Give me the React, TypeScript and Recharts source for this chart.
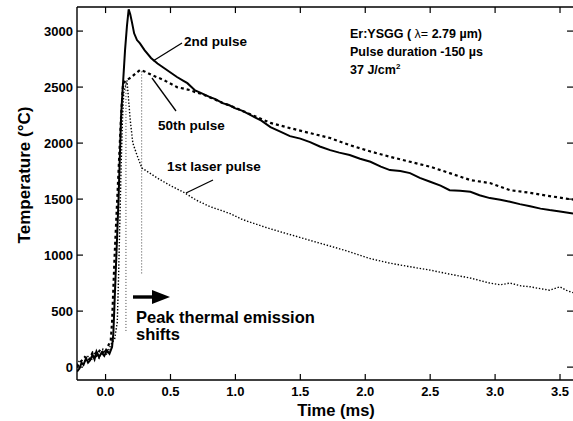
import React from 'react';
import { LineChart, Line, XAxis, YAxis, ReferenceLine } from 'recharts';

// 2nd pulse (solid)
const pulse2Time = [-0.22, -0.2, -0.185, -0.17, -0.15, -0.135, -0.12, -0.1, -0.085, -0.07, -0.05, -0.03, -0.01, 0.01, 0.03, 0.05, 0.06, 0.07, 0.08, 0.09, 0.1, 0.11, 0.12, 0.13, 0.15, 0.165, 0.178, 0.19, 0.203, 0.22, 0.242, 0.265, 0.3, 0.35, 0.4, 0.45, 0.5, 0.55, 0.6, 0.63, 0.69, 0.75, 0.8, 0.85, 0.9, 0.95, 1.0, 1.05, 1.1, 1.15, 1.2, 1.27, 1.35, 1.42, 1.5, 1.575, 1.65, 1.73, 1.8, 1.88, 1.96, 2.04, 2.12, 2.19, 2.27, 2.345, 2.42, 2.5, 2.58, 2.65, 2.73, 2.81, 2.88, 2.96, 3.04, 3.115, 3.19, 3.27, 3.35, 3.42, 3.5, 3.6];
const pulse2Temp = [-40, -10, 40, 20, 80, 40, 60, 110, 70, 140, 90, 130, 100, 150, 120, 180, 300, 600, 900, 1200, 1500, 1880, 2250, 2450, 2830, 3050, 3195, 3150, 3080, 2980, 2920, 2890, 2830, 2760, 2710, 2670, 2630, 2590, 2555, 2535, 2470, 2440, 2413, 2390, 2357, 2340, 2310, 2290, 2260, 2230, 2200, 2143, 2100, 2062, 2040, 2009, 1970, 1937, 1915, 1893, 1860, 1833, 1790, 1759, 1750, 1732, 1690, 1655, 1620, 1580, 1575, 1565, 1535, 1509, 1495, 1476, 1455, 1437, 1415, 1402, 1390, 1372];

// 50th pulse (dashed)
const pulse50Time = [-0.22, -0.19, -0.16, -0.13, -0.1, -0.07, -0.04, -0.01, 0.02, 0.04, 0.05, 0.06, 0.07, 0.08, 0.09, 0.1, 0.11, 0.12, 0.135, 0.16, 0.2, 0.24, 0.265, 0.3, 0.357, 0.45, 0.55, 0.65, 0.69, 0.75, 0.8, 0.9, 1.0, 1.1, 1.2, 1.27, 1.42, 1.575, 1.73, 1.88, 2.04, 2.19, 2.345, 2.5, 2.65, 2.81, 2.96, 3.115, 3.27, 3.42, 3.6];
const pulse50Temp = [0, 50, 90, 60, 130, 100, 160, 120, 190, 240, 400, 700, 1000, 1250, 1500, 1750, 2000, 2250, 2535, 2560, 2590, 2630, 2652, 2640, 2607, 2562, 2500, 2473, 2455, 2435, 2410, 2360, 2315, 2265, 2215, 2180, 2134, 2089, 2045, 1982, 1925, 1878, 1833, 1789, 1732, 1670, 1643, 1580, 1556, 1527, 1495];

// 1st laser pulse (dotted)
const pulse1Time = [-0.22, -0.2, -0.17, -0.14, -0.11, -0.08, -0.05, -0.02, 0.01, 0.04, 0.07, 0.09, 0.1, 0.11, 0.12, 0.13, 0.14, 0.165, 0.18, 0.19, 0.21, 0.242, 0.28, 0.4, 0.5, 0.6, 0.7, 0.8, 0.9, 0.96, 1.05, 1.11, 1.24, 1.4, 1.55, 1.7, 1.85, 2.04, 2.19, 2.345, 2.5, 2.65, 2.81, 2.96, 3.04, 3.115, 3.2, 3.27, 3.35, 3.42, 3.5, 3.55, 3.6];
const pulse1Temp = [20, 60, 30, 100, 60, 140, 80, 160, 110, 200, 250, 400, 800, 1300, 1800, 2200, 2450, 2560, 2350, 2205, 2000, 1893, 1777, 1687, 1620, 1562, 1490, 1435, 1395, 1370, 1320, 1295, 1245, 1190, 1140, 1090, 1040, 968, 928, 896, 866, 830, 795, 750, 735, 750, 725, 717, 700, 687, 717, 685, 665];

const xTicks = [0, 0.5, 1, 1.5, 2, 2.5, 3, 3.5];
const yTicks = [0, 500, 1000, 1500, 2000, 2500, 3000];
const xDomain = [-0.22, 3.6];
const yDomain = [-115, 3215];
// inward tick length of the mirrored frame ticks, in data units (≈6 px)
const topTickLen = 54;
const rightTickLen = 0.046;

const pulse2 = pulse2Time.map((t, i) => ({ t, T: pulse2Temp[i] }));
const pulse50 = pulse50Time.map((t, i) => ({ t, T: pulse50Temp[i] }));
const pulse1 = pulse1Time.map((t, i) => ({ t, T: pulse1Temp[i] }));

const font = '"Liberation Sans", Arial, Helvetica, sans-serif';
const tickStyle = { fontSize: 13, fontWeight: 700, fill: '#000', fontFamily: font };
const axisLineStyle = { stroke: '#000', strokeWidth: 1.4 };
const tickLineStyle = { stroke: '#000', strokeWidth: 1.2 };

export default function App() {
  return (
    <div style={{ position: 'absolute', left: 0, top: 0, width: 573, height: 421, background: '#fff', overflow: 'hidden' }}>
      <LineChart width={574} height={421} margin={{ top: 7, right: 1, bottom: 0, left: 0 }}>
        <XAxis xAxisId="b" type="number" dataKey="t" domain={xDomain} ticks={xTicks} allowDataOverflow
          orientation="bottom" height={41} tickSize={-6} tickMargin={13} interval={0}
          tick={tickStyle} tickFormatter={(v: number) => v.toFixed(1)}
          axisLine={axisLineStyle} tickLine={tickLineStyle} />
        <YAxis yAxisId="l" type="number" domain={yDomain} ticks={yTicks} allowDataOverflow
          orientation="left" width={77} tickSize={-6} tickMargin={10} interval={0}
          tick={tickStyle} axisLine={axisLineStyle} tickLine={tickLineStyle} />

        {/* frame: top border, top ticks, right ticks */}
        <ReferenceLine xAxisId="b" yAxisId="l" y={yDomain[1]} stroke="#000" strokeWidth={1.4} ifOverflow="visible" />
        {xTicks.map((v) => (
          <ReferenceLine key={'tt' + v} xAxisId="b" yAxisId="l" ifOverflow="visible"
            segment={[{ x: v, y: yDomain[1] }, { x: v, y: yDomain[1] - topTickLen }]}
            stroke="#000" strokeWidth={1.2} />
        ))}
        {yTicks.map((v) => (
          <ReferenceLine key={'rt' + v} xAxisId="b" yAxisId="l" ifOverflow="visible"
            segment={[{ x: xDomain[1], y: v }, { x: xDomain[1] - rightTickLen, y: v }]}
            stroke="#000" strokeWidth={1.2} />
        ))}

        <ReferenceLine xAxisId="b" yAxisId="l" segment={[{ x: 0.157, y: 2555 }, { x: 0.157, y: 305 }]}
          stroke="#444" strokeWidth={1} strokeDasharray="1 2" />
        <ReferenceLine xAxisId="b" yAxisId="l" segment={[{ x: 0.278, y: 2640 }, { x: 0.278, y: 830 }]}
          stroke="#444" strokeWidth={1} strokeDasharray="1 2" />

        <Line xAxisId="b" yAxisId="l" data={pulse1} dataKey="T" type="linear" dot={false}
          stroke="#000" strokeWidth={1.4} strokeDasharray="1.4 1.8" isAnimationActive={false} />
        <Line xAxisId="b" yAxisId="l" data={pulse50} dataKey="T" type="linear" dot={false}
          stroke="#000" strokeWidth={2.2} strokeDasharray="3 3" isAnimationActive={false} />
        <Line xAxisId="b" yAxisId="l" data={pulse2} dataKey="T" type="linear" dot={false}
          stroke="#000" strokeWidth={2} isAnimationActive={false} />
      </LineChart>

      <svg width={573} height={421} style={{ position: 'absolute', left: 0, top: 0, pointerEvents: 'none' }}
        fontFamily={font} fontWeight={700} fill="#000">
        <text x={336} y={416} fontSize={16.5} textAnchor="middle">Time (ms)</text>
        <text x={0} y={0} fontSize={17} textAnchor="middle" transform="translate(30,175) rotate(-90)">Temperature (°C)</text>

        <text x={184} y={46} fontSize={13.5}>2nd pulse</text>
        <line x1={182} y1={43} x2={153} y2={61} stroke="#000" strokeWidth={1.3} />
        <text x={158} y={129.5} fontSize={13.5}>50th pulse</text>
        <line x1={176} y1={111} x2={152} y2={78} stroke="#000" strokeWidth={1.3} />
        <text x={167} y={170.5} fontSize={13.5}>1st laser pulse</text>
        <line x1={213} y1={180} x2={186} y2={193} stroke="#000" strokeWidth={1.3} />

        <text x={350} y={38} fontSize={12.5}>Er:YSGG ( <tspan fontWeight={400}>λ=</tspan> 2.79 µm)</text>
        <text x={350} y={56} fontSize={12.5}>Pulse duration -150 µs</text>
        <text x={350} y={74} fontSize={12.5}>37 J/cm<tspan fontSize={8} dy={-5}>2</tspan></text>

        <line x1={133} y1={297} x2={154} y2={297} stroke="#000" strokeWidth={3.4} />
        <polygon points="152,290 170,297 152,304" fill="#000" />
        <text x={136} y={322.5} fontSize={16.5}>Peak thermal emission</text>
        <text x={136} y={340} fontSize={16.5}>shifts</text>
      </svg>
    </div>
  );
}
